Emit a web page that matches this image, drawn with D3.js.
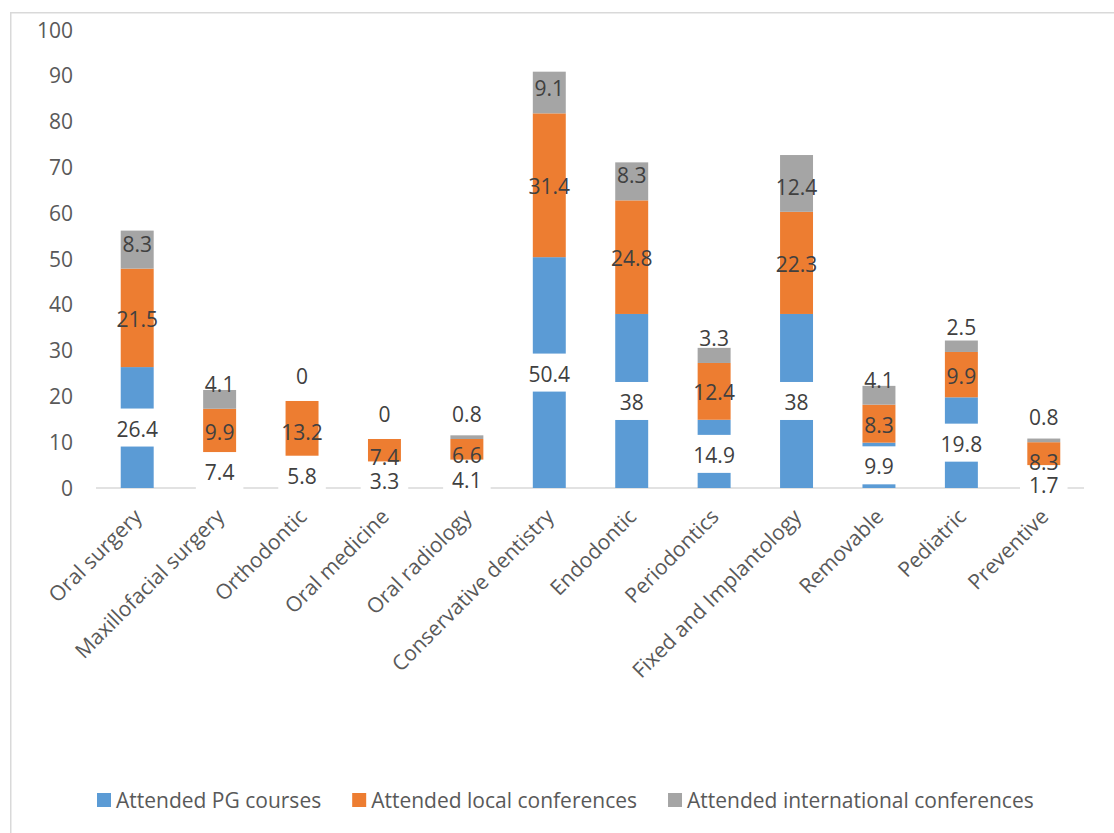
<!DOCTYPE html>
<html>
<head>
<meta charset="utf-8">
<script src="https://cdn.jsdelivr.net/npm/d3@7"></script>
<style>
  html, body { margin: 0; padding: 0; background: #fff; }
  svg { display: block; }
  text { font-family: "Open Sans", "Noto Sans", sans-serif; }
</style>
</head>
<body>
<svg id="chart" width="1114" height="833"></svg>
<script>
// Specialties
const categories = [
  "Oral surgery", "Maxillofacial surgery", "Orthodontic", "Oral medicine",
  "Oral radiology", "Conservative dentistry", "Endodontic", "Periodontics",
  "Fixed and Implantology", "Removable", "Pediatric", "Preventive"
];
// Percentages per series
const pgCourses      = [26.4, 7.4, 5.8, 3.3, 4.1, 50.4, 38, 14.9, 38, 9.9, 19.8, 1.7];
const localConf      = [21.5, 9.9, 13.2, 7.4, 6.6, 31.4, 24.8, 12.4, 22.3, 8.3, 9.9, 8.3];
const intlConf       = [8.3, 4.1, 0, 0, 0.8, 9.1, 8.3, 3.3, 12.4, 4.1, 2.5, 0.8];
const seriesNames    = ["Attended PG courses", "Attended local conferences", "Attended international conferences"];
const yTicks         = [0, 10, 20, 30, 40, 50, 60, 70, 80, 90, 100];

const colors = ["#5B9BD5", "#ED7D31", "#A5A5A5"];
const svg = d3.select("#chart");

// Chart frame
svg.append("path")
  .attr("d", "M10.75,833 V12.75 H1114")
  .attr("fill", "none")
  .attr("stroke", "#d9d9d9")
  .attr("stroke-width", 1.5);

const x = d3.scaleBand().domain(categories).range([96, 1085]).paddingInner(0.6).paddingOuter(0.3);
const y = d3.scaleLinear().domain([0, 100]).range([488, 30]);

// Y axis labels (no gridlines)
svg.append("g").selectAll("text").data(yTicks).join("text")
  .attr("x", 73)
  .attr("y", d => y(d) + 7.5)
  .attr("text-anchor", "end")
  .attr("font-size", 21)
  .attr("fill", "#595959")
  .text(d => d);

// Baseline
svg.append("line")
  .attr("x1", 96).attr("x2", 1084)
  .attr("y1", y(0)).attr("y2", y(0))
  .attr("stroke", "#d9d9d9").attr("stroke-width", 1.5);

// Stack the three series
const rows = categories.map((c, i) => ({ cat: c, s0: pgCourses[i], s1: localConf[i], s2: intlConf[i] }));
const stacked = d3.stack().keys(["s0", "s1", "s2"])(rows);

const gBars = svg.append("g");
stacked.forEach((layer, li) => {
  gBars.selectAll(null).data(layer).join("rect")
    .attr("x", d => x(d.data.cat))
    .attr("width", x.bandwidth())
    .attr("y", d => y(d[1]))
    .attr("height", d => y(d[0]) - y(d[1]))
    .attr("fill", colors[li]);
});

// Data labels
const gLabels = svg.append("g");
const labelFont = 21;

// PG courses labels: centred, on a white box
const pgG = gLabels.append("g");
stacked[0].forEach(d => {
  const cx = x(d.data.cat) + x.bandwidth() / 2;
  const mid = (y(d[0]) + y(d[1])) / 2;
  const g = pgG.append("g");
  const rect = g.append("rect").attr("fill", "#fff");
  const t = g.append("text")
    .attr("x", cx).attr("y", mid + 9)
    .attr("text-anchor", "middle")
    .attr("font-size", labelFont)
    .attr("fill", "#404040")
    .text(d.data.s0);
  const w = t.node().getComputedTextLength() + 18;
  rect.attr("x", cx - w / 2).attr("width", w)
    .attr("y", mid - 19).attr("height", 38);
});

// Local conference labels: centred
gLabels.append("g").selectAll("text").data(stacked[1]).join("text")
  .attr("x", d => x(d.data.cat) + x.bandwidth() / 2)
  .attr("y", d => (y(d[0]) + y(d[1])) / 2 + 9)
  .attr("text-anchor", "middle")
  .attr("font-size", labelFont)
  .attr("fill", "#404040")
  .text(d => d.data.s1);

// International conference labels: inside base
gLabels.append("g").selectAll("text").data(stacked[2]).join("text")
  .attr("x", d => x(d.data.cat) + x.bandwidth() / 2)
  .attr("y", d => y(d[0]) - 17)
  .attr("text-anchor", "middle")
  .attr("font-size", labelFont)
  .attr("fill", "#404040")
  .text(d => d.data.s2);

// Category labels, rotated
svg.append("g").selectAll("text").data(categories).join("text")
  .attr("transform", d => `translate(${x(d) + x.bandwidth() / 2 + 6},${518}) rotate(-45)`)
  .attr("text-anchor", "end")
  .attr("font-size", 21)
  .attr("fill", "#595959")
  .text(d => d);

// Legend
const legend = svg.append("g");
let lx = 97;
seriesNames.forEach((name, i) => {
  legend.append("rect")
    .attr("x", lx).attr("y", 793)
    .attr("width", 14).attr("height", 14)
    .attr("fill", colors[i]);
  const t = legend.append("text")
    .attr("x", lx + 19).attr("y", 807.5)
    .attr("font-size", 21)
    .attr("fill", "#595959")
    .text(name);
  lx += 19 + t.node().getComputedTextLength() + 31;
});
</script>
</body>
</html>
